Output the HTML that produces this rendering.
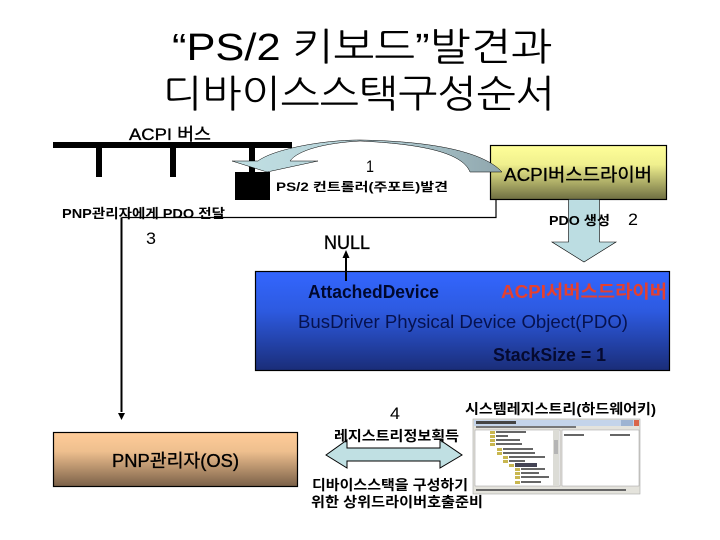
<!DOCTYPE html>
<html><head><meta charset="utf-8"><style>
html,body{margin:0;padding:0;background:#fff}
svg{display:block}
text{font-family:"Liberation Sans","WenQuanYi Zen Hei","Noto Sans CJK KR",sans-serif;fill:#000}
.t{font-family:"Liberation Sans","NanumGothic","Noto Sans CJK KR",sans-serif;font-weight:normal}
.b{font-weight:bold}
.m{stroke:#000;stroke-width:.35px}
</style></head><body>
<svg width="720" height="540" viewBox="0 0 720 540" xmlns="http://www.w3.org/2000/svg">
<defs>
<linearGradient id="y" x1="0" y1="0" x2="0" y2="1"><stop offset="0" stop-color="#ffff99"/><stop offset=".35" stop-color="#f0f08e"/><stop offset="1" stop-color="#6e6e42"/></linearGradient>
<linearGradient id="bl" x1="0" y1="0" x2="0" y2="1"><stop offset="0" stop-color="#3366ff"/><stop offset=".4" stop-color="#2d5ae0"/><stop offset="1" stop-color="#1a2d78"/></linearGradient>
<linearGradient id="o" x1="0" y1="0" x2="0" y2="1"><stop offset="0" stop-color="#ffcc99"/><stop offset=".35" stop-color="#eebf8e"/><stop offset="1" stop-color="#7a6048"/></linearGradient>
<linearGradient id="c" x1="0" y1="0" x2="1" y2="0"><stop offset="0" stop-color="#c0dfe3"/><stop offset=".5" stop-color="#b4d0d6"/><stop offset="1" stop-color="#8fa6ad"/></linearGradient>
</defs>
<rect width="720" height="540" fill="#fff"/>

<!-- title -->
<text class="t" x="172" y="60" font-size="38" textLength="380" lengthAdjust="spacingAndGlyphs">“PS/2 키보드”발견과</text>
<text class="t" x="163" y="107" font-size="38" textLength="392" lengthAdjust="spacingAndGlyphs">디바이스스택구성순서</text>

<!-- bus -->
<text class="m" x="129" y="140" font-size="17" textLength="82" lengthAdjust="spacingAndGlyphs">ACPI 버스</text>
<rect x="53" y="142" width="239" height="6"/>
<rect x="96" y="148" width="6" height="29"/>
<rect x="170" y="148" width="6" height="29"/>
<rect x="249" y="148" width="6" height="26"/>
<rect x="235" y="172" width="35" height="28"/>

<!-- lines -->
<path d="M496 199V217.500H121.500" fill="none" stroke="#000" stroke-width="1.200"/>
<path d="M121.500 217.500V412" fill="none" stroke="#000" stroke-width="2"/>
<path d="M118 413H125L121.500 420Z"/>
<path d="M346 281V257" stroke="#000" stroke-width="2"/>
<path d="M342.500 258H349.500L346 250Z"/>

<!-- ACPI driver box -->
<rect x="490.500" y="145.500" width="176" height="54" fill="url(#y)" stroke="#000" stroke-width="1.200"/>

<!-- curved arrow -->
<path d="M360 140C425 141 482 150 502 172H470C462 152 420 144 360 141C325 143 298 150 290 161H318L267 172L232 161H258C272 150 320 140 360 140Z" fill="url(#c)" stroke="#000" stroke-width=".5"/>

<text x="366" y="172" font-size="17" textLength="8" lengthAdjust="spacingAndGlyphs">1</text>
<text x="276" y="191" class="b" font-size="12" textLength="172" lengthAdjust="spacingAndGlyphs">PS/2 컨트롤러(주포트)발견</text>
<text class="m" x="504" y="181" font-size="18" textLength="148" lengthAdjust="spacingAndGlyphs">ACPI버스드라이버</text>
<text x="62" y="218" class="b" font-size="13" textLength="163" lengthAdjust="spacingAndGlyphs">PNP관리자에게 PDO 전달</text>

<!-- down arrow -->
<path d="M568.500 199.500V242H552L584 262L616 242H599.500V199.500Z" fill="#bcdde2" stroke="#000" stroke-width=".6"/>
<text x="549" y="225" class="b" font-size="13" textLength="61" lengthAdjust="spacingAndGlyphs">PDO 생성</text>
<text x="628" y="225" font-size="17" textLength="10" lengthAdjust="spacingAndGlyphs">2</text>
<text x="146" y="244" font-size="17" textLength="10" lengthAdjust="spacingAndGlyphs">3</text>
<text class="m" x="324" y="249" font-size="19" textLength="46" lengthAdjust="spacingAndGlyphs">NULL</text>

<!-- blue box -->
<rect x="255.500" y="271.500" width="414" height="99" fill="url(#bl)" stroke="#000" stroke-width="1.200"/>
<path d="M346 271V281" stroke="#000" stroke-width="2"/>
<text x="308" y="298" font-size="18" class="b" textLength="131" lengthAdjust="spacingAndGlyphs" style="fill:#00082e">AttachedDevice</text>
<text x="501" y="298" font-size="18" class="b" textLength="166" lengthAdjust="spacingAndGlyphs" style="fill:#e5402f">ACPI서버스드라이버</text>
<text x="298" y="328" font-size="18" textLength="330" lengthAdjust="spacingAndGlyphs" style="fill:#06124f">BusDriver Physical Device Object(PDO)</text>
<text x="493" y="361" font-size="18" class="b" textLength="113" lengthAdjust="spacingAndGlyphs" style="fill:#050a30">StackSize = 1</text>

<!-- registry -->
<text x="390" y="419" font-size="17" textLength="10" lengthAdjust="spacingAndGlyphs">4</text>
<text x="465" y="414" class="b" font-size="14" textLength="191" lengthAdjust="spacingAndGlyphs">시스템레지스트리(하드웨어키)</text>

<path d="M326 455L347 440V448H440V440L462 455L440 468V461H347V468Z" fill="#c0e0e3" stroke="#000" stroke-width="1"/>
<text x="334" y="441" class="b" font-size="14" textLength="125" lengthAdjust="spacingAndGlyphs">레지스트리정보획득</text>
<text x="312" y="490" class="b" font-size="14" textLength="156" lengthAdjust="spacingAndGlyphs">디바이스스택을 구성하기</text>
<text x="311" y="507" class="b" font-size="14" textLength="172" lengthAdjust="spacingAndGlyphs">위한 상위드라이버호출준비</text>

<!-- screenshot -->
<rect x="473" y="419" width="167" height="75" fill="#e4e3dc" stroke="#a8a8a8" stroke-width=".6"/>
<rect x="474" y="420" width="165" height="6" fill="#c4d4ea"/>
<rect x="621" y="420" width="12" height="6" fill="#9db3d2"/>
<rect x="634" y="420" width="5" height="6" fill="#d9654a"/>
<rect x="476" y="421" width="40" height="3" fill="#444"/>
<rect x="476" y="426" width="100" height="2" fill="#777"/>
<rect x="475" y="430" width="85" height="56" fill="#fff" stroke="#999" stroke-width=".5"/>
<rect x="562" y="430" width="77" height="56" fill="#fff" stroke="#999" stroke-width=".5"/>
<rect x="553" y="430" width="6" height="56" fill="#dcdcd6"/>
<rect x="554" y="440" width="4" height="14" fill="#b5b5b5"/>
<g fill="#c9b74f">
<rect x="490" y="431" width="5" height="3"/><rect x="490" y="435" width="5" height="3"/><rect x="490" y="439" width="5" height="3"/><rect x="490" y="443" width="5" height="3"/>
<rect x="497" y="448" width="5" height="3"/><rect x="497" y="452" width="5" height="3"/><rect x="503" y="456" width="5" height="3"/><rect x="503" y="460" width="5" height="3"/>
<rect x="509" y="464" width="5" height="3"/><rect x="515" y="468" width="5" height="3"/><rect x="515" y="472" width="5" height="3"/><rect x="515" y="476" width="5" height="3"/><rect x="515" y="481" width="5" height="3"/>
</g>
<g fill="#666">
<rect x="496" y="431" width="30" height="2"/><rect x="496" y="435" width="12" height="2"/><rect x="496" y="439" width="24" height="2"/><rect x="496" y="443" width="26" height="2"/>
<rect x="503" y="448" width="30" height="2"/><rect x="503" y="452" width="32" height="2"/><rect x="509" y="456" width="36" height="2"/><rect x="509" y="460" width="16" height="2"/>
<rect x="521" y="468" width="24" height="2"/><rect x="521" y="472" width="18" height="2"/><rect x="521" y="476" width="28" height="2"/><rect x="521" y="481" width="20" height="2"/>
<rect x="564" y="434" width="20" height="2"/><rect x="610" y="434" width="20" height="2"/>
<rect x="476" y="489" width="150" height="2"/>
</g>
<rect x="515" y="463" width="22" height="4" fill="#445"/>

<!-- PNP box -->
<rect x="53.500" y="432.500" width="244" height="54" fill="url(#o)" stroke="#000" stroke-width="1.200"/>
<text class="m" x="112" y="467" font-size="18" textLength="127" lengthAdjust="spacingAndGlyphs">PNP관리자(OS)</text>
</svg>
</body></html>
